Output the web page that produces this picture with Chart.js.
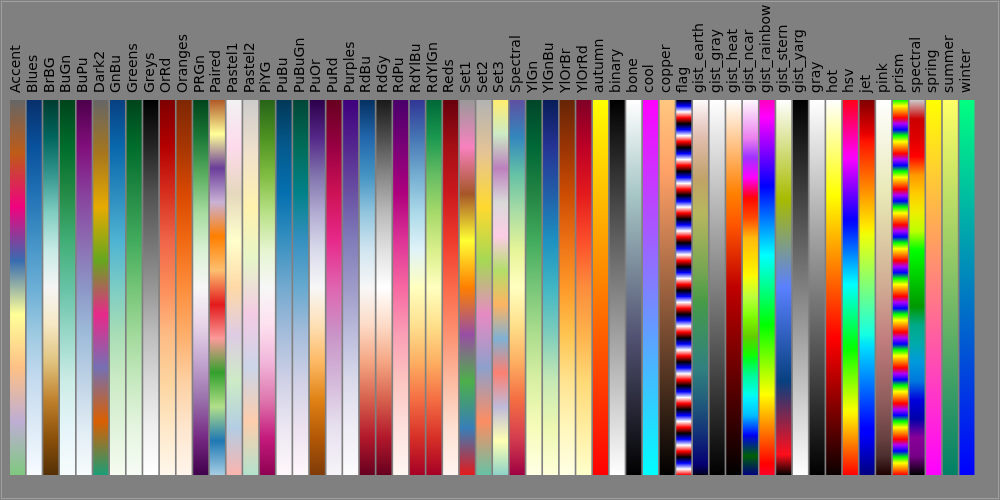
<!DOCTYPE html>
<html><head><meta charset="utf-8">
<script src="https://cdn.jsdelivr.net/npm/chart.js@4/dist/chart.umd.min.js"></script>
<style>html,body{margin:0;padding:0;background:#808080;overflow:hidden}#wrap{width:1000px;height:500px;position:relative}</style>
</head><body><div id="wrap"><canvas id="c"></canvas></div>
<script>
// Colormap names (x categories)
const names = ['Accent','Blues','BrBG','BuGn','BuPu','Dark2','GnBu','Greens','Greys','OrRd','Oranges','PRGn','Paired','Pastel1','Pastel2','PiYG','PuBu','PuBuGn','PuOr','PuRd','Purples','RdBu','RdGy','RdPu','RdYlBu','RdYlGn','Reds','Set1','Set2','Set3','Spectral','YlGn','YlGnBu','YlOrBr','YlOrRd','autumn','binary','bone','cool','copper','flag','gist_earth','gist_gray','gist_heat','gist_ncar','gist_rainbow','gist_stern','gist_yarg','gray','hot','hsv','jet','pink','prism','spectral','spring','summer','winter'];
// Each strip spans the colormap's value range 0..1
const rangeLow  = [0,0,0,0,0,0,0,0,0,0,0,0,0,0,0,0,0,0,0,0,0,0,0,0,0,0,0,0,0,0,0,0,0,0,0,0,0,0,0,0,0,0,0,0,0,0,0,0,0,0,0,0,0,0,0,0,0,0];
const rangeHigh = [1,1,1,1,1,1,1,1,1,1,1,1,1,1,1,1,1,1,1,1,1,1,1,1,1,1,1,1,1,1,1,1,1,1,1,1,1,1,1,1,1,1,1,1,1,1,1,1,1,1,1,1,1,1,1,1,1,1];

// Colormap definitions (value 0 -> value 1)
const cmapDefs = {
  Accent:['#7fc97f','#beaed4','#fdc086','#ffff99','#386cb0','#f0027f','#bf5b17','#666666'],
  Blues:['#f7fbff','#deebf7','#c6dbef','#9ecae1','#6baed6','#4292c6','#2171b5','#08519c','#08306b'],
  BrBG:['#543005','#8c510a','#bf812d','#dfc27d','#f6e8c3','#f5f5f5','#c7eae5','#80cdc1','#35978f','#01665e','#003c30'],
  BuGn:['#f7fcfd','#e5f5f9','#ccece6','#99d8c9','#66c2a4','#41ae76','#238b45','#006d2c','#00441b'],
  BuPu:['#f7fcfd','#e0ecf4','#bfd3e6','#9ebcda','#8c96c6','#8c6bb1','#88419d','#810f7c','#4d004b'],
  Dark2:['#1b9e77','#d95f02','#7570b3','#e7298a','#66a61e','#e6ab02','#a6761d','#666666'],
  GnBu:['#f7fcf0','#e0f3db','#ccebc5','#a8ddb5','#7bccc4','#4eb3d3','#2b8cbe','#0868ac','#084081'],
  Greens:['#f7fcf5','#e5f5e0','#c7e9c0','#a1d99b','#74c476','#41ab5d','#238b45','#006d2c','#00441b'],
  Greys:['#ffffff','#f0f0f0','#d9d9d9','#bdbdbd','#969696','#737373','#525252','#252525','#000000'],
  OrRd:['#fff7ec','#fee8c8','#fdd49e','#fdbb84','#fc8d59','#ef6548','#d7301f','#b30000','#7f0000'],
  Oranges:['#fff5eb','#fee6ce','#fdd0a2','#fdae6b','#fd8d3c','#f16913','#d94801','#a63603','#7f2704'],
  PRGn:['#40004b','#762a83','#9970ab','#c2a5cf','#e7d4e8','#f7f7f7','#d9f0d3','#a6dba0','#5aae61','#1b7837','#00441b'],
  Paired:['#a6cee3','#1f78b4','#b2df8a','#33a02c','#fb9a99','#e31a1c','#fdbf6f','#ff7f00','#cab2d6','#6a3d9a','#ffff99','#b15928'],
  Pastel1:['#fbb4ae','#b3cde3','#ccebc5','#decbe4','#fed9a6','#ffffcc','#e5d8bd','#fddaec','#f2f2f2'],
  Pastel2:['#b3e2cd','#fdcdac','#cbd5e8','#f4cae4','#e6f5c9','#fff2ae','#f1e2cc','#cccccc'],
  PiYG:['#8e0152','#c51b7d','#de77ae','#f1b6da','#fde0ef','#f7f7f7','#e6f5d0','#b8e186','#7fbc41','#4d9221','#276419'],
  PuBu:['#fff7fb','#ece7f2','#d0d1e6','#a6bddb','#74a9cf','#3690c0','#0570b0','#045a8d','#023858'],
  PuBuGn:['#fff7fb','#ece2f0','#d0d1e6','#a6bddb','#67a9cf','#3690c0','#02818a','#016c59','#014636'],
  PuOr:['#7f3b08','#b35806','#e08214','#fdb863','#fee0b6','#f7f7f7','#d8daeb','#b2abd2','#8073ac','#542788','#2d004b'],
  PuRd:['#f7f4f9','#e7e1ef','#d4b9da','#c994c7','#df65b0','#e7298a','#ce1256','#980043','#67001f'],
  Purples:['#fcfbfd','#efedf5','#dadaeb','#bcbddc','#9e9ac8','#807dba','#6a51a3','#54278f','#3f007d'],
  RdBu:['#67001f','#b2182b','#d6604d','#f4a582','#fddbc7','#f7f7f7','#d1e5f0','#92c5de','#4393c3','#2166ac','#053061'],
  RdGy:['#67001f','#b2182b','#d6604d','#f4a582','#fddbc7','#ffffff','#e0e0e0','#bababa','#878787','#4d4d4d','#1a1a1a'],
  RdPu:['#fff7f3','#fde0dd','#fcc5c0','#fa9fb5','#f768a1','#dd3497','#ae017e','#7a0177','#49006a'],
  RdYlBu:['#a50026','#d73027','#f46d43','#fdae61','#fee090','#ffffbf','#e0f3f8','#abd9e9','#74add1','#4575b4','#313695'],
  RdYlGn:['#a50026','#d73027','#f46d43','#fdae61','#fee08b','#ffffbf','#d9ef8b','#a6d96a','#66bd63','#1a9850','#006837'],
  Reds:['#fff5f0','#fee0d2','#fcbba1','#fc9272','#fb6a4a','#ef3b2c','#cb181d','#a50f15','#67000d'],
  Set1:['#e41a1c','#377eb8','#4daf4a','#984ea3','#ff7f00','#ffff33','#a65628','#f781bf','#999999'],
  Set2:['#66c2a5','#fc8d62','#8da0cb','#e78ac3','#a6d854','#ffd92f','#e5c494','#b3b3b3'],
  Set3:['#8dd3c7','#ffffb3','#bebada','#fb8072','#80b1d3','#fdb462','#b3de69','#fccde5','#d9d9d9','#bc80bd','#ccebc5','#ffed6f'],
  Spectral:['#9e0142','#d53e4f','#f46d43','#fdae61','#fee08b','#ffffbf','#e6f598','#abdda4','#66c2a5','#3288bd','#5e4fa2'],
  YlGn:['#ffffe5','#f7fcb9','#d9f0a3','#addd8e','#78c679','#41ab5d','#238443','#006837','#004529'],
  YlGnBu:['#ffffd9','#edf8b1','#c7e9b4','#7fcdbb','#41b6c4','#1d91c0','#225ea8','#253494','#081d58'],
  YlOrBr:['#ffffe5','#fff7bc','#fee391','#fec44f','#fe9929','#ec7014','#cc4c02','#993404','#662506'],
  YlOrRd:['#ffffcc','#ffeda0','#fed976','#feb24c','#fd8d3c','#fc4e2a','#e31a1c','#bd0026','#800026'],
  autumn:['#ff0000','#ffff00'],
  binary:['#ffffff','#000000'],
  bone:{r:[[0,0],[0.746032,0.652778],[1,1]],g:[[0,0],[0.365079,0.319444],[0.746032,0.777778],[1,1]],b:[[0,0],[0.365079,0.444444],[1,1]]},
  cool:['#00ffff','#ff00ff'],
  copper:{r:[[0,0],[0.809524,1],[1,1]],g:[[0,0],[1,0.7812]],b:[[0,0],[1,0.4975]]},
  flag:{pattern:['#ff0000','#ffffff','#0000ff','#000000'],n:63},
  gist_earth:{r:[[0,0],[0.2824,0.1882],[0.4588,0.2714],[0.549,0.4719],[0.698,0.7176],[0.7882,0.7553],[1,0.9922]],
              g:[[0,0],[0.0275,0],[0.1098,0.1893],[0.1647,0.3035],[0.2078,0.3841],[0.2824,0.502],[0.5216,0.6397],[0.698,0.7171],[0.7882,0.6392],[0.8157,0.6549],[0.898,0.743],[0.9412,0.8275],[1,0.9843]],
              b:[[0,0],[0.0039,0.1684],[0.0078,0.2212],[0.0275,0.4329],[0.0314,0.4549],[0.2824,0.5004],[0.4667,0.2748],[0.5451,0.3205],[0.7843,0.3961],[0.8941,0.6651],[1,0.9843]]},
  gist_gray:['#000000','#ffffff'],
  gist_heat:{r:[[0,0],[0.6667,1],[1,1]],g:[[0,0],[0.5,0],[1,1]],b:[[0,0],[0.75,0],[1,1]]},
  gist_ncar:{r:[[0,0],[0.3098,0],[0.3725,0.3993],[0.4235,0.5003],[0.5333,1],[0.7922,1],[0.8471,0.6218],[0.898,0.9235],[1,0.9961]],
             g:[[0,0],[0.051,0.3722],[0.1059,0],[0.1569,0.7202],[0.1647,0.7752],[0.2157,1],[0.2588,0.9804],[0.2706,0.9804],[0.3176,1],[0.3686,0.8081],[0.4275,1],[0.5216,1],[0.6314,0.7292],[0.6863,0.2796],[0.7451,0],[0.7922,0],[0.8431,0.1753],[0.898,0.5],[1,0.9725]],
             b:[[0,0.502],[0.051,0.0222],[0.1098,1],[0.2039,1],[0.2627,0.6145],[0.3216,0],[0.4157,0],[0.4745,0.2342],[0.5333,0],[0.5804,0],[0.6314,0.0549],[0.6902,0],[0.7373,0],[0.7922,0.9738],[0.8,1],[0.8431,1],[0.898,0.9341],[1,0.9961]]},
  gist_rainbow:{r:[[0,1],[0.03,1],[0.215,1],[0.4,0],[0.586,0],[0.77,0],[0.954,1],[1,1]],
                g:[[0,0],[0.03,0],[0.215,1],[0.4,1],[0.586,1],[0.77,0],[0.954,0],[1,0]],
                b:[[0,0.16],[0.03,0],[0.215,0],[0.4,0],[0.586,1],[0.77,1],[0.954,1],[1,0.75]]},
  gist_stern:{r:[[0,0],[0.0547,1],[0.25,0.027],[1,1]],g:[[0,0],[1,1]],b:[[0,0],[0.5,1],[0.735,0],[1,1]]},
  gist_yarg:['#ffffff','#000000'],
  gray:['#000000','#ffffff'],
  hot:{r:[[0,0.0416],[0.365079,1],[1,1]],g:[[0,0],[0.365079,0],[0.746032,1],[1,1]],b:[[0,0],[0.746032,0],[1,1]]},
  hsv:{r:[[0,1],[0.15873,1],[0.174603,0.96875],[0.333333,0.03125],[0.349206,0],[0.666667,0],[0.68254,0.03125],[0.84127,0.96875],[0.857143,1],[1,1]],
       g:[[0,0],[0.15873,0.9375],[0.174603,1],[0.507937,1],[0.666667,0.0625],[0.68254,0],[1,0]],
       b:[[0,0],[0.333333,0],[0.349206,0.0625],[0.507937,1],[0.84127,1],[0.857143,0.9375],[1,0.09375]]},
  jet:{r:[[0,0],[0.35,0],[0.66,1],[0.89,1],[1,0.5]],g:[[0,0],[0.125,0],[0.375,1],[0.64,1],[0.91,0],[1,0]],b:[[0,0.5],[0.11,1],[0.34,1],[0.65,0],[1,0]]},
  pink:{stops:[[0,'#1e0000'],[0.05,'#4d2e2e'],[0.1,'#694242'],[0.2,'#915d5d'],[0.365,'#c27e7e'],[0.5,'#d0ab93'],[0.746,'#e8e8b4'],[0.875,'#f4f4dd'],[1,'#ffffff']]},
  prism:{pattern:['#ff0000','#ff8000','#ffff00','#00ff00','#0000ff','#aa00ff'],n:63},
  spectral:['#000000','#770088','#880099','#0000aa','#0000dd','#0077dd','#0099dd','#00aaaa','#00aa88','#009900','#00bb00','#00dd00','#00ff00','#bbff00','#eeee00','#ffcc00','#ff9900','#ff0000','#dd0000','#cc0000','#cccccc'],
  spring:['#ff00ff','#ffff00'],
  summer:['#008066','#ffff66'],
  winter:['#0000ff','#00ff80']
};

function interpChannel(seg, x){
  for (let i=1;i<seg.length;i++){
    if (x <= seg[i][0]){
      const [x0,v0]=seg[i-1],[x1,v1]=seg[i];
      return x1===x0 ? v1 : v0+(v1-v0)*(x-x0)/(x1-x0);
    }
  }
  return seg[seg.length-1][1];
}
function toHex(v){return Math.round(Math.max(0,Math.min(1,v))*255).toString(16).padStart(2,'0');}
function stopsFor(def){
  if (Array.isArray(def)) return def.map((c,i)=>[i/(def.length-1),c]);
  if (def.stops) return def.stops;
  if (def.pattern){const out=[];for(let k=0;k<=def.n;k++)out.push([k/def.n,def.pattern[k%def.pattern.length]]);return out;}
  const xs=[...new Set([...def.r,...def.g,...def.b].map(p=>p[0]))].sort((a,b)=>a-b);
  return xs.map(x=>[x,'#'+toHex(interpChannel(def.r,x))+toHex(interpChannel(def.g,x))+toHex(interpChannel(def.b,x))]);
}
const cmapStops = names.map(n=>stopsFor(cmapDefs[n]));

const gradCache = {};
function stripGradient(context){
  const chart = context.chart, area = chart.chartArea;
  if (!area) return '#808080';
  const idx = context.dataIndex;
  const key = idx+':'+area.top+':'+area.bottom;
  if (gradCache[key]) return gradCache[key];
  const y = chart.scales.y;
  const g = chart.ctx.createLinearGradient(0, y.getPixelForValue(rangeLow[idx]), 0, y.getPixelForValue(rangeHigh[idx]));
  cmapStops[idx].forEach(([p,c])=>g.addColorStop(p,c));
  gradCache[key]=g;
  return g;
}

const framePlugin = {
  id:'frame',
  afterDraw(chart){
    const c=chart.ctx; c.save(); c.strokeStyle='#a0a0a0'; c.lineWidth=1;
    c.strokeRect(1.5,1.5,chart.width-3,chart.height-3); c.restore();
  }
};

new Chart(document.getElementById('c'), {
  type:'bar',
  data:{
    labels:names,
    datasets:[{
      data:names.map((n,i)=>[rangeLow[i],rangeHigh[i]]),
      backgroundColor:stripGradient,
      borderWidth:0,
      barPercentage:0.9,
      categoryPercentage:1.0
    }]
  },
  options:{
    responsive:true, maintainAspectRatio:false, animation:false,
    devicePixelRatio:1,
    layout:{padding:{left:9.2,right:24.7,top:0,bottom:25}},
    plugins:{legend:{display:false},tooltip:{enabled:false}},
    scales:{
      x:{
        position:'top',
        grid:{display:false,drawTicks:false},
        border:{display:false},
        ticks:{color:'#000000',font:{family:'DejaVu Sans',size:14},minRotation:90,maxRotation:90,autoSkip:false,padding:7,labelOffset:16},
        afterFit(scale){scale.height=100;scale.paddingLeft=0;scale.paddingRight=0;}
      },
      y:{display:false,min:0,max:1}
    }
  },
  plugins:[framePlugin]
});
</script>
</body></html>
